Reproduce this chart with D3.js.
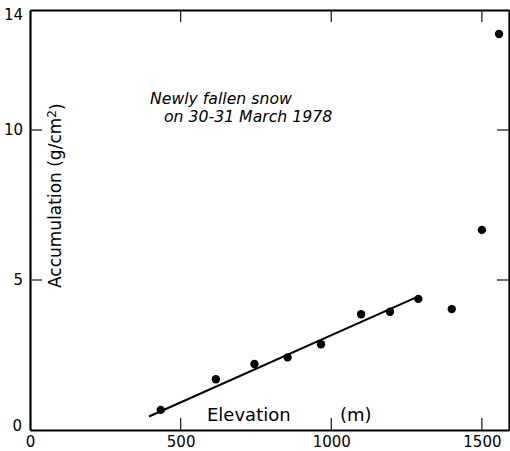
<!DOCTYPE html>
<meta charset="utf-8">
<style>
    body { margin: 0; background: #fff; }
    .axis path.domain { stroke: #000; stroke-width: 2.2px; }
    .axis text { font-family: "DejaVu Sans", sans-serif; font-size: 15px; fill: #000; }
    .label { font-family: "DejaVu Sans", sans-serif; fill: #000; }
    .ticks line { stroke: #222; stroke-width: 1.3px; }
</style>
<svg id="svg" width="510" height="451"></svg>
<script src="https://cdnjs.cloudflare.com/ajax/libs/d3/7.8.5/d3.min.js"></script>
<script>

    // elevation (m) of the sampling points
    var elevation = [434, 617, 745, 855, 966, 1099, 1195, 1289, 1400, 1500, 1557];
    // accumulation of newly fallen snow (g/cm2)
    var accumulation = [0.67, 1.69, 2.2, 2.42, 2.86, 3.86, 3.94, 4.37, 4.03, 6.67, 13.2];

    // regression line drawn through the lower points
    var fitElevation = [395, 1295];
    var fitAccumulation = [0.45, 4.48];

    var xTicks = [0, 500, 1000, 1500];
    var yTicks = [0, 5, 10, 14];
    // tick marks that are actually drawn (inside the frame)
    var xMarks = [500, 1000, 1500];
    var yMarks = [5, 10];

    var svg = d3.select("svg");

    var x = d3.scaleLinear().domain([0, 1590]).range([30, 509]);
    var y = d3.scaleLinear().domain([0, 14]).range([430, 10]);

    // frame: the four axis lines, labels only bottom and left
    svg.append("g")
        .attr("class", "axis")
        .attr("transform", "translate(0,430)")
        .call(d3.axisBottom(x).tickValues(xTicks).tickSize(0).tickPadding(6).tickFormat(d3.format("d")));

    svg.append("g")
        .attr("class", "axis")
        .attr("transform", "translate(0,10)")
        .call(d3.axisTop(x).tickValues([]).tickSize(0));

    svg.append("g")
        .attr("class", "axis")
        .attr("transform", "translate(30,0)")
        .call(d3.axisLeft(y).tickValues(yTicks).tickSize(0).tickPadding(7))
        .call(function (g) {
            // the zero sits a bit higher than the x-axis zero
            g.selectAll(".tick").filter(function (d) { return d === 0; }).select("text").attr("dy", "0.0em").attr("x", -8);
            g.selectAll(".tick").filter(function (d) { return d === 14; }).select("text").attr("dy", "0.6em");
        });

    svg.append("g")
        .attr("class", "axis")
        .attr("transform", "translate(509,0)")
        .call(d3.axisRight(y).tickValues([]).tickSize(0));

    // inward tick marks
    var ticks = svg.append("g").attr("class", "ticks");

    ticks.selectAll(".xb").data(xMarks).enter().append("line")
        .attr("x1", function (d) { return x(d); }).attr("x2", function (d) { return x(d); })
        .attr("y1", y(0)).attr("y2", y(0) - 12);

    ticks.selectAll(".xt").data(xMarks).enter().append("line")
        .attr("x1", function (d) { return x(d); }).attr("x2", function (d) { return x(d); })
        .attr("y1", y(14)).attr("y2", y(14) + 12);

    ticks.selectAll(".yl").data(yMarks).enter().append("line")
        .attr("x1", x(0)).attr("x2", x(0) + 12)
        .attr("y1", function (d) { return y(d); }).attr("y2", function (d) { return y(d); });

    ticks.selectAll(".yr").data(yMarks).enter().append("line")
        .attr("x1", 509).attr("x2", 509 - 12)
        .attr("y1", function (d) { return y(d); }).attr("y2", function (d) { return y(d); });

    // fitted line
    var line = d3.line()
        .x(function (d) { return x(d[0]); })
        .y(function (d) { return y(d[1]); });

    svg.append("path")
        .datum(d3.zip(fitElevation, fitAccumulation))
        .attr("d", line)
        .attr("fill", "none")
        .attr("stroke", "#000")
        .attr("stroke-width", 2);

    // points
    svg.append("g")
        .selectAll("circle")
        .data(d3.zip(elevation, accumulation))
        .enter().append("circle")
        .attr("cx", function (d) { return x(d[0]); })
        .attr("cy", function (d) { return y(d[1]); })
        .attr("r", 4.2)
        .attr("fill", "#000");

    // axis titles
    svg.append("text")
        .attr("class", "label")
        .attr("x", 207)
        .attr("y", 421)
        .style("font-size", "18px")
        .text("Elevation");

    svg.append("text")
        .attr("class", "label")
        .attr("x", 340)
        .attr("y", 421)
        .style("font-size", "18px")
        .text("(m)");

    var ylab = svg.append("text")
        .attr("class", "label")
        .attr("transform", "translate(61,288) rotate(-90)")
        .style("font-size", "17px");
    ylab.append("tspan").text("Accumulation  (g/cm");
    ylab.append("tspan").attr("dy", "-0.45em").style("font-size", "12px").text("2");
    ylab.append("tspan").attr("dy", "0.45em").text(")");

    // annotation
    svg.append("text")
        .attr("class", "label")
        .attr("x", 150)
        .attr("y", 104)
        .style("font-size", "15.7px")
        .style("font-style", "italic")
        .text("Newly fallen snow");

    svg.append("text")
        .attr("class", "label")
        .attr("x", 164)
        .attr("y", 122)
        .style("font-size", "15.7px")
        .style("font-style", "italic")
        .text("on 30-31 March 1978");

</script>
